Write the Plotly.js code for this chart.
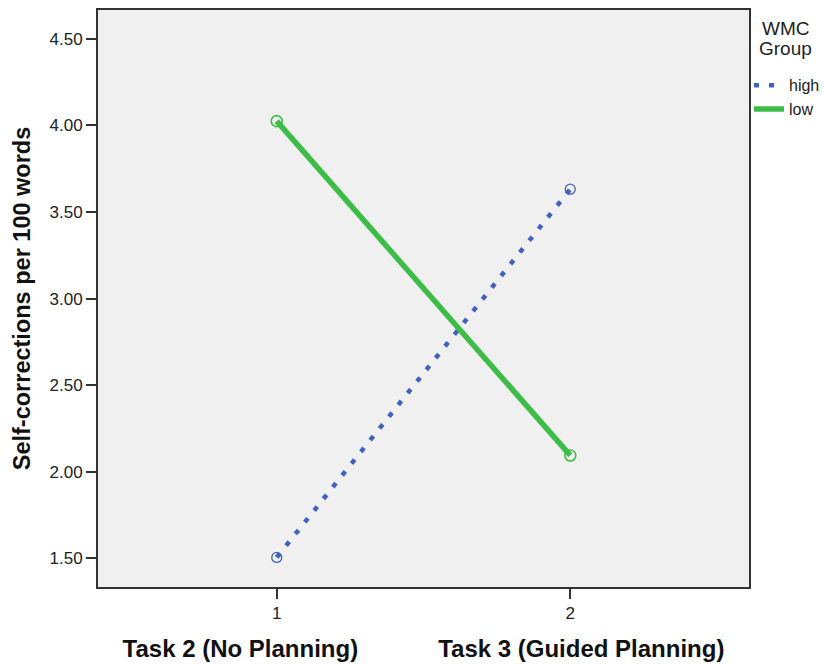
<!DOCTYPE html>
<html><head><meta charset="utf-8">
<script src="https://cdn.plot.ly/plotly-3.0.1.min.js"></script>
<style>body{margin:0;background:#fff}#chart{width:823px;height:665px}</style>
</head><body><div id="chart"></div>
<script>
const tasks = [1, 2];
const taskLabels = ["Task 2 (No Planning)", "Task 3 (Guided Planning)"];
const highValues = [1.505, 3.632];
const lowValues = [4.025, 2.094];
const yTicks = [1.5, 2.0, 2.5, 3.0, 3.5, 4.0, 4.5];
const groupNames = ["high", "low"];
const legendTitleLines = ["WMC", "Group"];

const blue = "#4060c4", green = "#3dbd47";
const traces = [
  {x: tasks, y: highValues, name: groupNames[0], mode: "lines", type: "scatter",
   line: {color: blue, width: 4.5, dash: "5px,10px"}},
  {x: tasks, y: lowValues, name: groupNames[1], mode: "lines", type: "scatter",
   line: {color: green, width: 5.5}},
  {x: tasks, y: highValues, mode: "markers", type: "scatter", showlegend: false,
   marker: {symbol: "circle-open", size: 10, color: blue, line: {width: 1.3}}},
  {x: tasks, y: lowValues, mode: "markers", type: "scatter", showlegend: false,
   marker: {symbol: "circle-open", size: 11, color: green, line: {width: 1.6}}}
];

const font = "Liberation Sans, Arial, sans-serif";
const sp = "&nbsp;".repeat(12);
const layout = {
  width: 823, height: 665,
  margin: {l: 98, r: 74, t: 10, b: 78, autoexpand: false},
  paper_bgcolor: "#ffffff", plot_bgcolor: "#f0f0f0",
  font: {family: font, color: "#222"},
  showlegend: true,
  legend: {x: 1.0, xanchor: "left", y: 0.899, yanchor: "top",
    font: {size: 16, color: "#222"}, itemwidth: 30, tracegroupgap: 0,
    bgcolor: "rgba(0,0,0,0)"},
  xaxis: {range: [0.391, 2.609], tickvals: tasks, ticktext: tasks.map(String),
    showgrid: false, zeroline: false, showline: true, mirror: true,
    linecolor: "#333", linewidth: 2, ticks: "outside", ticklen: 10, tickwidth: 2,
    tickcolor: "#333", tickfont: {size: 17, color: "#222"},
    title: {text: "<b>" + taskLabels.join(sp) + "</b>",
      standoff: 18, font: {size: 24, color: "#111"}}},
  yaxis: {range: [1.334, 4.667], tickvals: yTicks, ticktext: yTicks.map(v => v.toFixed(2)),
    showgrid: false, zeroline: false, showline: true, mirror: true,
    linecolor: "#333", linewidth: 2, ticks: "outside", ticklen: 10, tickwidth: 2,
    tickcolor: "#333", tickfont: {size: 17, color: "#222"},
    title: {text: "<b>Self-corrections per 100 words</b>", standoff: 12,
      font: {size: 23.5, color: "#111"}}},
  annotations: legendTitleLines.map((t, i) => ({xref: "paper", yref: "paper",
    x: 1.0565, y: 1.0, yshift: -18 - 20 * i, xanchor: "center", yanchor: "middle",
    showarrow: false, text: t, font: {family: font, size: 19, color: "#222"}}))
};
Plotly.newPlot("chart", traces, layout, {displayModeBar: false, staticPlot: true});
</script></body></html>
